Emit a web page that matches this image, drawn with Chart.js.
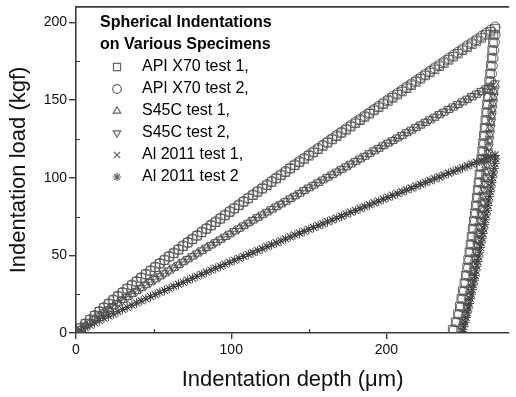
<!DOCTYPE html>
<html><head><meta charset="utf-8">
<script src="https://cdn.jsdelivr.net/npm/chart.js@4.4.1/dist/chart.umd.min.js"></script>
<style>html,body{margin:0;padding:0;background:#fff;}#wrap{width:516px;height:397px;}</style>
</head><body><div id="wrap"><canvas id="c" width="516" height="397"></canvas></div>
<script>
// ---- data ----
const depthTicks = [0, 100, 200];
const loadTicks = [0, 50, 100, 150, 200];
const depthMinorTicks = [50, 150, 250];
const loadMinorTicks = [25, 75, 125, 175];

const seriesLabels = ["API X70 test 1,", "API X70 test 2,", "S45C test 1,", "S45C test 2,", "Al 2011 test 1,", "Al 2011 test 2"];
const legendTitle = ["Spherical Indentations", "on Various Specimens"];

// loading branch: depth (um)
const loadDepth = [0,3,6,9,12,15,18,21,24,27,30,33,36,39,42,45,48,51,54,57,60,63,66,69,72,75,78,81,84,87,90,93,96,99,102,105,108,111,114,117,120,123,126,129,132,135,138,141,144,147,150,153,156,159,162,165,168,171,174,177,180,183,186,189,192,195,198,201,204,207,210,213,216,219,222,225,228,231,234,237,240,243,246,249,252,255,258,261,264,267,270];
// loading branch: load (kgf)
const apiTest1Load = [0,3.1,5.9,8.6,11.1,13.7,16.2,18.7,21.2,23.6,26.0,28.4,30.7,33.0,35.4,37.7,40.0,42.3,44.6,46.9,49.2,51.3,53.6,55.9,58.1,60.3,62.6,64.8,67.0,69.2,71.3,73.5,75.7,77.9,80.1,82.2,84.4,86.6,88.7,90.8,92.9,95.1,97.2,99.4,101.5,103.6,105.8,107.9,109.9,112.0,114.1,116.2,118.3,120.4,122.5,124.6,126.7,128.8,130.8,132.9,135.0,137.0,139.1,141.2,143.3,145.3,147.4,149.4,151.4,153.5,155.5,157.6,159.6,161.7,163.7,165.8,167.8,169.8,171.8,173.8,175.9,177.9,179.9,182.0,184.0,186.0,188.0,190.0,192.0,194.0,196.0];
const apiTest2Load = [0,3.1,5.9,8.6,11.2,13.8,16.3,18.8,21.3,23.7,26.1,28.5,30.9,33.2,35.6,37.9,40.2,42.5,44.8,47.1,49.4,51.6,53.9,56.2,58.4,60.6,62.9,65.1,67.3,69.5,71.7,73.9,76.1,78.3,80.5,82.6,84.8,87.0,89.1,91.3,93.4,95.6,97.7,99.9,102.0,104.1,106.3,108.4,110.5,112.6,114.7,116.8,118.9,121.0,123.1,125.2,127.3,129.4,131.5,133.6,135.7,137.7,139.8,141.9,144.0,146.0,148.1,150.2,152.2,154.3,156.3,158.4,160.4,162.5,164.5,166.6,168.6,170.7,172.7,174.7,176.8,178.8,180.8,182.9,184.9,186.9,188.9,191.0,193.0,195.0,197.0];
const s45cTest1Load = [0,2.5,4.8,7.0,9.1,11.2,13.2,15.3,17.3,19.2,21.2,23.1,25.1,27.0,28.9,30.8,32.7,34.5,36.4,38.3,40.1,41.9,43.8,45.6,47.4,49.2,51.1,52.9,54.7,56.4,58.2,60.0,61.8,63.6,65.4,67.1,68.9,70.7,72.4,74.2,75.9,77.6,79.4,81.1,82.8,84.5,86.3,88.0,89.7,91.5,93.2,94.9,96.6,98.3,100.0,101.7,103.4,105.1,106.8,108.5,110.2,111.8,113.5,115.2,117.0,118.6,120.3,122.0,123.6,125.3,126.9,128.7,130.3,132.0,133.6,135.3,136.9,138.6,140.3,141.9,143.6,145.2,146.8,148.5,150.2,151.8,153.4,155.1,156.8,158.4,160.0];
const s45cTest2Load = [0,2.5,4.8,7.0,9.1,11.3,13.3,15.3,17.4,19.3,21.3,23.3,25.2,27.1,29.1,31.0,32.8,34.7,36.6,38.4,40.3,42.1,44.0,45.9,47.7,49.5,51.3,53.2,55.0,56.7,58.5,60.3,62.1,63.9,65.7,67.4,69.2,71.0,72.8,74.6,76.3,78.0,79.8,81.5,83.2,84.9,86.7,88.4,90.2,92.0,93.7,95.4,97.1,98.8,100.5,102.2,103.9,105.6,107.3,109.0,110.8,112.4,114.1,115.8,117.6,119.2,120.9,122.6,124.2,125.9,127.5,129.3,130.9,132.7,134.3,136.0,137.6,139.3,141.0,142.6,144.3,145.9,147.5,149.2,150.9,152.6,154.2,155.9,157.6,159.2,160.8];
const alTest1Load = [0,1.8,3.4,5.0,6.5,8.1,9.5,11.0,12.4,13.8,15.2,16.6,18.0,19.4,20.8,22.1,23.5,24.8,26.2,27.5,28.8,30.1,31.5,32.8,34.1,35.4,36.7,38.0,39.3,40.6,41.9,43.1,44.4,45.7,47.0,48.2,49.5,50.8,52.0,53.3,54.5,55.8,57.0,58.3,59.5,60.8,62.1,63.3,64.5,65.7,67.0,68.2,69.4,70.6,71.9,73.1,74.3,75.5,76.8,78.0,79.2,80.4,81.6,82.8,84.1,85.2,86.5,87.7,88.9,90.1,91.2,92.5,93.6,94.9,96.0,97.3,98.4,99.7,100.8,102.0,103.2,104.4,105.5,106.8,107.9,109.1,110.3,111.5,112.7,113.8,115.0];
const alTest2Load = [0,1.8,3.4,5.0,6.5,8.0,9.5,10.9,12.3,13.7,15.1,16.5,17.9,19.3,20.7,22.0,23.4,24.7,26.1,27.4,28.7,30.0,31.3,32.6,33.9,35.2,36.5,37.8,39.1,40.4,41.7,42.9,44.2,45.5,46.8,48.0,49.3,50.5,51.7,53.0,54.2,55.5,56.7,58.0,59.2,60.5,61.8,63.0,64.2,65.4,66.7,67.9,69.1,70.2,71.5,72.7,73.9,75.1,76.4,77.6,78.8,80.0,81.2,82.4,83.7,84.8,86.1,87.3,88.5,89.7,90.7,92.0,93.1,94.4,95.5,96.8,97.9,99.2,100.3,101.5,102.7,103.9,105.0,106.3,107.4,108.6,109.8,110.9,112.1,113.2,114.4];

// unloading branch
const apiUnloadLoad = [192,187,182,177,172,167,162,157,152,147,142,137,132,127,122,117,112,107,102,97,92,87,82,77,72,67,62,57,52,47,42,37,32,27,22,17,12,7,2];
const apiTest1UnloadDepth = [269.0,268.6,268.1,267.7,267.2,266.7,266.2,265.7,265.2,264.7,264.2,263.7,263.2,262.7,262.1,261.6,261.0,260.5,259.9,259.3,258.7,258.1,257.5,256.9,256.2,255.5,254.8,254.1,253.4,252.6,251.9,251.0,250.2,249.2,248.2,247.2,246.0,244.5,242.6];
const apiTest2UnloadDepth = [270.0,269.6,269.1,268.7,268.2,267.7,267.2,266.7,266.2,265.7,265.2,264.7,264.2,263.7,263.1,262.6,262.0,261.5,260.9,260.3,259.7,259.1,258.5,257.9,257.2,256.5,255.8,255.1,254.4,253.6,252.9,252.0,251.2,250.2,249.2,248.2,247.0,245.5,243.6];
const s45cUnloadLoad = [156,152,148,144,140,136,132,128,124,120,116,112,108,104,100,96,92,88,84,80,76,72,68,64,60,56,52,48,44,40,36,32,28,24,20,16,12,8,4];
const s45cTest1UnloadDepth = [269.1,268.7,268.3,267.9,267.5,267.1,266.7,266.3,265.9,265.5,265.1,264.6,264.2,263.8,263.3,262.9,262.4,261.9,261.5,261.0,260.5,260.0,259.5,259.0,258.5,257.9,257.4,256.8,256.2,255.6,255.0,254.4,253.7,253.0,252.3,251.5,250.6,249.6,248.5];
const s45cTest2UnloadDepth = [269.6,269.2,268.8,268.4,268.0,267.6,267.2,266.8,266.4,266.0,265.6,265.1,264.7,264.3,263.8,263.4,262.9,262.4,262.0,261.5,261.0,260.5,260.0,259.5,259.0,258.4,257.9,257.3,256.7,256.1,255.5,254.9,254.2,253.5,252.8,252.0,251.1,250.1,249.0];
const alUnloadLoad = [112,109,106,103,100,97,94,91,88,85,82,79,76,73,70,67,64,61,58,55,52,49,46,43,40,37,34,31,28,25,22,19,16,13,10,7,4,1];
const alTest1UnloadDepth = [270.5,270.0,269.5,269.0,268.5,268.0,267.5,267.0,266.5,266.0,265.5,265.0,264.4,263.9,263.4,262.8,262.3,261.8,261.2,260.7,260.1,259.6,259.0,258.4,257.8,257.2,256.7,256.1,255.4,254.8,254.2,253.5,252.9,252.2,251.4,250.7,249.9,248.9];
const alTest2UnloadDepth = [270.3,269.8,269.3,268.8,268.3,267.8,267.3,266.8,266.3,265.8,265.3,264.8,264.2,263.7,263.2,262.6,262.1,261.6,261.0,260.5,259.9,259.4,258.8,258.2,257.6,257.0,256.5,255.9,255.2,254.6,254.0,253.3,252.7,252.0,251.2,250.5,249.7,248.7];

// ---- build ----
const FONT = "'Liberation Sans', Arial, Helvetica, sans-serif";
function pts(loadArr, unDepth, unLoad) {
  const a = loadDepth.map((x, i) => ({x: x, y: loadArr[i]}));
  const b = unDepth.map((x, i) => ({x: x, y: unLoad[i]}));
  return a.concat(b);
}
const styles = [
  {pointStyle: 'rect', radius: 6, legendRadius: 5, rotation: 0, color: '#555'},
  {pointStyle: 'circle', radius: 5, legendRadius: 4.3, rotation: 0, color: '#555'},
  {pointStyle: 'triangle', radius: 5, legendRadius: 4.3, rotation: 0, color: '#4a4a4a'},
  {pointStyle: 'triangle', radius: 5, legendRadius: 4.3, rotation: 180, color: '#4a4a4a'},
  {pointStyle: 'crossRot', radius: 4.8, legendRadius: 4.3, rotation: 0, color: '#333'},
  {pointStyle: 'star', radius: 4.8, legendRadius: 4.3, rotation: 0, color: '#333'}
];
const seriesData = [
  pts(apiTest1Load, apiTest1UnloadDepth, apiUnloadLoad),
  pts(apiTest2Load, apiTest2UnloadDepth, apiUnloadLoad),
  pts(s45cTest1Load, s45cTest1UnloadDepth, s45cUnloadLoad),
  pts(s45cTest2Load, s45cTest2UnloadDepth, s45cUnloadLoad),
  pts(alTest1Load, alTest1UnloadDepth, alUnloadLoad),
  pts(alTest2Load, alTest2UnloadDepth, alUnloadLoad)
];
const datasets = seriesData.map((d, i) => ({
  label: seriesLabels[i],
  data: d,
  showLine: false,
  pointStyle: styles[i].pointStyle,
  pointRadius: styles[i].radius,
  pointRotation: styles[i].rotation,
  pointBorderWidth: 0.9,
  pointBorderColor: styles[i].color,
  pointBackgroundColor: 'rgba(0,0,0,0)',
  pointHoverRadius: styles[i].radius
}));

const AXIS = '#3c3c3c';
const decor = {
  id: 'decor',
  afterDraw(chart) {
    const ctx = chart.ctx, ca = chart.chartArea;
    const xs = chart.scales.x, ys = chart.scales.y;
    ctx.save();
    ctx.strokeStyle = AXIS;
    ctx.lineWidth = 1.6;
    ctx.beginPath();
    ctx.moveTo(ca.left, ca.top);
    ctx.lineTo(ca.right, ca.top);
    ctx.stroke();
    ctx.lineWidth = 1.2;
    ctx.beginPath();
    depthMinorTicks.forEach(v => { const p = Math.round(xs.getPixelForValue(v)) + 0.5; ctx.moveTo(p, ca.bottom); ctx.lineTo(p, ca.bottom - 4); });
    loadMinorTicks.forEach(v => { const p = Math.round(ys.getPixelForValue(v)) + 0.5; ctx.moveTo(ca.left, p); ctx.lineTo(ca.left + 4, p); });
    ctx.stroke();
    // legend
    ctx.fillStyle = '#000';
    ctx.textBaseline = 'middle';
    ctx.textAlign = 'left';
    ctx.font = 'bold 16px ' + FONT;
    legendTitle.forEach((t, i) => ctx.fillText(t, 100, 23 + 22 * i));
    ctx.font = '16px ' + FONT;
    seriesLabels.forEach((t, i) => {
      const y = 67 + 22 * i;
      ctx.strokeStyle = '#666';
      ctx.fillStyle = 'rgba(0,0,0,0)';
      Chart.helpers.drawPoint(ctx, {pointStyle: styles[i].pointStyle, radius: styles[i].legendRadius, rotation: styles[i].rotation, borderWidth: 0.9}, 117, y);
      ctx.fillStyle = '#000';
      ctx.fillText(t, 142, y);
    });
    ctx.restore();
  }
};

new Chart(document.getElementById('c'), {
  type: 'scatter',
  data: {datasets: datasets},
  options: {
    responsive: false,
    animation: false,
    devicePixelRatio: 1,
    layout: {padding: {top: 5, right: 0, bottom: 0, left: 0}},
    plugins: {legend: {display: false}, tooltip: {enabled: false}},
    scales: {
      x: {
        type: 'linear', min: 0, max: 279,
        afterBuildTicks: s => { s.ticks = depthTicks.map(v => ({value: v})); },
        afterFit: s => { s.height = 64; s.paddingLeft = 0; s.paddingRight = 0; },
        ticks: {font: {family: FONT, size: 14}, color: '#111', padding: 3, maxRotation: 0, autoSkip: false},
        grid: {drawOnChartArea: false, drawTicks: true, tickLength: 6, color: AXIS, lineWidth: 1.4},
        border: {display: true, color: AXIS, width: 1.6},
        title: {display: true, text: 'Indentation depth (μm)', font: {family: FONT, size: 22}, color: '#111', padding: {top: 0, bottom: 4}}
      },
      y: {
        type: 'linear', min: 0, max: 210,
        afterBuildTicks: s => { s.ticks = loadTicks.map(v => ({value: v})); },
        afterFit: s => { s.width = 76; s.paddingTop = 0; s.paddingBottom = 0; },
        ticks: {font: {family: FONT, size: 14}, color: '#111', padding: 2, autoSkip: false},
        grid: {drawOnChartArea: false, drawTicks: true, tickLength: 7, color: AXIS, lineWidth: 1.4},
        border: {display: true, color: AXIS, width: 1.6},
        title: {display: true, text: 'Indentation load (kgf)', font: {family: FONT, size: 22}, color: '#111', padding: {top: 6, bottom: 0}}
      }
    }
  },
  plugins: [decor]
});
</script>
</body></html>
